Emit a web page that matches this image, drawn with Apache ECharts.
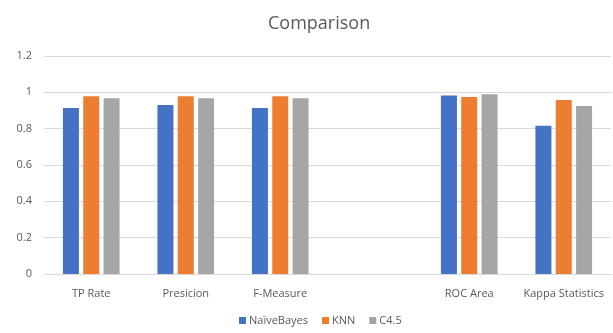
<!DOCTYPE html>
<html>
<head>
<meta charset="utf-8">
<script src="https://cdn.jsdelivr.net/npm/echarts@6/dist/echarts.min.js"></script>
<style>
  html, body { margin: 0; padding: 0; background: #fff; }
  #chart { width: 613px; height: 333px; }
</style>
</head>
<body>
<div id="chart"></div>
<script>
var categories = ["TP Rate", "Presicion", "F-Measure", "", "ROC Area", "Kappa Statistics"];
var naiveBayes = [0.914, 0.930, 0.914, null, 0.983, 0.816];
var knn = [0.978, 0.978, 0.978, null, 0.974, 0.958];
var c45 = [0.967, 0.967, 0.967, null, 0.990, 0.925];

var textColor = "#595959";
var font = "'Open Sans', sans-serif";

var myChart = echarts.init(document.getElementById("chart"));
var option = {
  animation: false,
  color: ["#4472C4", "#ED7D31", "#A5A5A5"],
  title: {
    text: "Comparison",
    left: 263,
    top: 10,
    textStyle: {
      color: textColor,
      fontSize: 18,
      fontWeight: "normal",
      fontFamily: font
    }
  },
  legend: {
    bottom: 2,
    left: 234,
    itemWidth: 7,
    itemHeight: 7,
    itemGap: 14,
    icon: "rect",
    textStyle: {
      color: textColor,
      fontSize: 11,
      fontFamily: font,
      padding: [0, 0, 0, -2]
    },
    data: ["NaïveBayes", "KNN", "C4.5"]
  },
  grid: {
    left: 44,
    right: 2,
    top: 56,
    bottom: 59,
    containLabel: false
  },
  xAxis: {
    type: "category",
    data: categories,
    axisTick: { show: false },
    axisLine: { lineStyle: { color: "#d9d9d9" } },
    axisLabel: {
      color: textColor,
      fontSize: 11,
      fontFamily: font,
      margin: 14,
      interval: 0
    }
  },
  yAxis: {
    type: "value",
    min: 0,
    max: 1.2,
    interval: 0.2,
    axisLine: { show: false },
    axisTick: { show: false },
    splitLine: { lineStyle: { color: "#d9d9d9" } },
    axisLabel: {
      color: textColor,
      fontSize: 11,
      fontFamily: font,
      margin: 12,
      formatter: function (v) { return String(Math.round(v * 10) / 10); }
    }
  },
  series: [
    { name: "NaïveBayes", type: "bar", data: naiveBayes, barWidth: 16, barGap: "27%" },
    { name: "KNN", type: "bar", data: knn, barWidth: 16, barGap: "27%" },
    { name: "C4.5", type: "bar", data: c45, barWidth: 16, barGap: "27%" }
  ]
};
myChart.setOption(option);
</script>
</body>
</html>
